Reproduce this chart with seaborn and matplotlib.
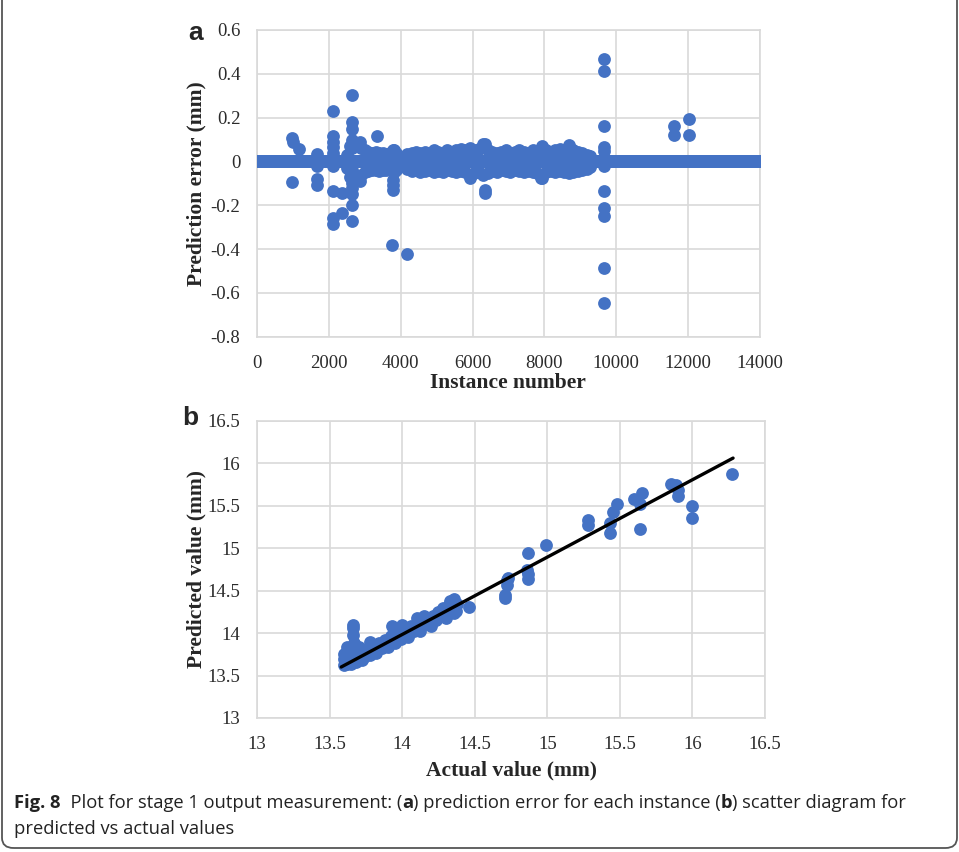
import numpy as np
import pandas as pd
import matplotlib
matplotlib.use("Agg")
import matplotlib.pyplot as plt
from matplotlib.patches import FancyBboxPatch
import seaborn as sns

# ---- panel a: prediction error per instance ----
n_instances = 14000  # every instance has zero error except those listed below

a_cluster_x = [2500, 2600, 2700, 2800, 2900, 3000, 3100, 3200, 3300, 3400, 3500, 3600, 3700, 3800, 3880,
               4170, 4300, 4420, 4550, 4680, 4800, 4930, 5050, 5180, 5300, 5430, 5550, 5680, 5800, 5930,
               6050, 6180, 6300, 6430, 6550, 6680, 6800, 6930, 7050, 7180, 7300, 7430, 7550, 7680, 7800,
               7930, 8050, 8180, 8300, 8430, 8550, 8680, 8800, 8930, 9050, 9180, 9280]
a_cluster_hi = [0.03, 0.07, 0.09, 0.08, 0.06, 0.05, 0.045, 0.04, 0.045, 0.04, 0.04, 0.035, 0.04, 0.05, 0.04,
                0.035, 0.04, 0.045, 0.04, 0.045, 0.04, 0.05, 0.045, 0.04, 0.05, 0.045, 0.05, 0.055, 0.05, 0.06,
                0.05, 0.055, 0.08, 0.05, 0.045, 0.04, 0.045, 0.05, 0.04, 0.045, 0.05, 0.045, 0.04, 0.05, 0.045,
                0.07, 0.05, 0.045, 0.05, 0.055, 0.045, 0.075, 0.05, 0.045, 0.04, 0.03, 0.025]
a_cluster_lo = [-0.03, -0.07, -0.085, -0.07, -0.06, -0.05, -0.045, -0.04, -0.04, -0.045, -0.04, -0.04, -0.035, -0.05, -0.04,
                -0.035, -0.045, -0.04, -0.05, -0.045, -0.04, -0.05, -0.045, -0.05, -0.04, -0.045, -0.05, -0.045, -0.05, -0.065,
                -0.055, -0.05, -0.06, -0.055, -0.045, -0.05, -0.04, -0.045, -0.05, -0.04, -0.045, -0.05, -0.045, -0.05, -0.055,
                -0.075, -0.05, -0.045, -0.05, -0.045, -0.05, -0.055, -0.05, -0.045, -0.04, -0.035, -0.025]

a_out_x = [966, 1010, 1170, 983, 1660, 1660, 1660, 1660, 2125,
           2107, 2107, 2107, 2107, 2107, 2107, 2107, 2107, 2376, 2356,
           2635, 2635, 2635, 2635, 2635, 2635, 2635, 2635, 2635, 2635, 2635,
           2866, 2866, 3330, 3795, 3795, 3795, 3795, 3748, 4166, 5928,
           6345, 6345, 6345, 7904,
           9666, 9666, 9666, 9666, 9666, 9666, 9666, 9666, 9666, 9666, 9666,
           11605, 11605, 12032, 12032]
a_out_err = [0.107, 0.087, 0.057, -0.096, 0.035, -0.023, -0.079, -0.106, 0.231,
             0.114, 0.09, 0.068, 0.04, -0.02, -0.134, -0.259, -0.284, -0.145, -0.236,
             0.301, 0.18, 0.148, 0.10, 0.06, -0.04, -0.10, -0.12, -0.15, -0.198, -0.274,
             0.09, -0.091, 0.114, 0.05, -0.084, -0.106, -0.129, -0.383, -0.421, -0.075,
             0.081, -0.13, -0.145, -0.075,
             0.467, 0.411, 0.164, 0.068, 0.046, -0.023, -0.134, -0.213, -0.251, -0.487, -0.644,
             0.163, 0.119, 0.195, 0.122]

a_xticks = [0, 2000, 4000, 6000, 8000, 10000, 12000, 14000]
a_yticks = [-0.8, -0.6, -0.4, -0.2, 0, 0.2, 0.4, 0.6]
a_yticklabels = ["-0.8", "-0.6", "-0.4", "-0.2", "0", "0.2", "0.4", "0.6"]

# ---- panel b: predicted vs actual ----
b_actual = [13.60, 13.60, 13.60, 13.61, 13.62, 13.62, 13.63, 13.64, 13.65, 13.65,
            13.66, 13.66, 13.66, 13.67, 13.67, 13.68, 13.70, 13.71, 13.73, 13.74,
            13.76, 13.78, 13.78, 13.80, 13.82, 13.84, 13.86, 13.88, 13.90, 13.92,
            13.93, 13.95, 13.97, 13.99, 14.00, 14.02, 14.04, 14.06, 14.08, 14.10,
            14.12, 14.14, 14.15, 14.17, 14.19, 14.20, 14.21, 14.23, 14.25, 14.27,
            14.28, 14.30, 14.30, 14.32, 14.33, 14.35, 14.36, 14.36, 14.37, 14.38,
            14.46, 14.71, 14.71, 14.72, 14.72, 14.73, 14.87, 14.86, 14.87, 14.87,
            14.99, 15.28, 15.28, 15.43, 15.43, 15.45, 15.48, 15.60, 15.64, 15.65,
            15.64, 15.85, 15.89, 15.90, 15.90, 16.00, 16.00, 16.27,
            13.62, 13.64, 13.68, 13.70, 13.72]
b_predicted = [13.62, 13.70, 13.75, 13.66, 13.63, 13.78, 13.68, 13.72, 13.64, 13.80,
               14.10, 14.06, 13.98, 13.88, 13.70, 13.66, 13.75, 13.69, 13.78, 13.72,
               13.80, 13.74, 13.90, 13.82, 13.76, 13.88, 13.82, 13.92, 13.83, 13.96,
               14.08, 13.88, 14.00, 13.93, 14.10, 14.02, 13.95, 14.08, 14.03, 14.18,
               14.02, 14.15, 14.20, 14.11, 14.18, 14.08, 14.20, 14.15, 14.25, 14.20,
               14.30, 14.18, 14.26, 14.33, 14.38, 14.28, 14.40, 14.24, 14.26, 14.34,
               14.31, 14.45, 14.41, 14.56, 14.62, 14.65, 14.94, 14.74, 14.70, 14.64,
               15.04, 15.33, 15.27, 15.18, 15.29, 15.42, 15.52, 15.58, 15.52, 15.65,
               15.22, 15.75, 15.74, 15.68, 15.61, 15.50, 15.35, 15.87,
               13.84, 13.76, 13.80, 13.84, 13.68]
fit_x = [13.58, 16.28]
fit_y = [13.60, 16.06]

b_ticks = [13, 13.5, 14, 14.5, 15, 15.5, 16, 16.5]
b_ticklabels = ["13", "13.5", "14", "14.5", "15", "15.5", "16", "16.5"]

BLUE = "#4472C4"
GRID = "#d9d9d9"
SERIF = "Liberation Serif"

sns.set_style("white")
plt.rcParams["font.family"] = ["Liberation Serif", "DejaVu Serif"]

fig = plt.figure(figsize=(9.59, 8.52), dpi=100)

# 框線
fig.patches.append(FancyBboxPatch((2 / 959, 4 / 852), 955 / 959, 860 / 852,
                                  boxstyle="round,pad=0,rounding_size=0.012",
                                  transform=fig.transFigure, fill=False,
                                  edgecolor="#555555", linewidth=1.3))

ax_a = fig.add_axes([0.268, 0.6048, 0.5245, 0.36])
ax_b = fig.add_axes([0.268, 0.1573, 0.5297, 0.3489])

base_x = np.arange(1, n_instances + 1)
df_a = pd.DataFrame({
    "instance": np.concatenate([base_x, a_cluster_x, a_cluster_x, a_out_x]),
    "error": np.concatenate([np.zeros(n_instances), a_cluster_hi, a_cluster_lo, a_out_err]),
})
sns.scatterplot(data=df_a, x="instance", y="error", ax=ax_a, color=BLUE, s=85,
                linewidth=0, zorder=3)

df_b = pd.DataFrame({"actual": b_actual, "predicted": b_predicted})
sns.scatterplot(data=df_b, x="actual", y="predicted", ax=ax_b, color=BLUE, s=85,
                linewidth=0, zorder=3)
sns.lineplot(x=fit_x, y=fit_y, ax=ax_b, color="black", linewidth=2.4, zorder=4)


def style_axes(ax):
    ax.grid(True, color=GRID, linewidth=1.2)
    ax.set_axisbelow(True)
    for sp in ax.spines.values():
        sp.set_visible(True)
        sp.set_color(GRID)
        sp.set_linewidth(1.2)
    ax.tick_params(length=0, labelsize=13.5, labelcolor="#2b2b2b")
    for lab in ax.get_xticklabels() + ax.get_yticklabels():
        lab.set_family(SERIF)


ax_a.set_xlim(0, 14000)
ax_a.set_ylim(-0.8, 0.6)
ax_a.set_xticks(a_xticks)
ax_a.set_xticklabels([str(t) for t in a_xticks])
ax_a.set_yticks(a_yticks)
ax_a.set_yticklabels(a_yticklabels)
ax_a.tick_params(axis="x", pad=13)
ax_a.tick_params(axis="y", pad=12)
style_axes(ax_a)
ax_a.set_xlabel("Instance number", fontsize=15.5, fontweight="bold")
ax_a.set_ylabel("Prediction error (mm)", fontsize=15.5, fontweight="bold")
ax_a.xaxis.set_label_coords(0.499, -0.152)
ax_a.xaxis.label.set_va("center")
ax_a.yaxis.set_label_coords(-0.121, 0.5)
ax_a.yaxis.label.set_va("center")

ax_b.set_xlim(13, 16.5)
ax_b.set_ylim(13, 16.5)
ax_b.set_xticks(b_ticks)
ax_b.set_xticklabels(b_ticklabels)
ax_b.set_yticks(b_ticks)
ax_b.set_yticklabels(b_ticklabels)
ax_b.tick_params(axis="x", pad=13)
ax_b.tick_params(axis="y", pad=12)
style_axes(ax_b)
ax_b.set_xlabel("Actual value (mm)", fontsize=15.5, fontweight="bold")
ax_b.set_ylabel("Predicted value (mm)", fontsize=15.5, fontweight="bold")
ax_b.xaxis.set_label_coords(0.5, -0.178)
ax_b.xaxis.label.set_va("center")
ax_b.yaxis.set_label_coords(-0.12, 0.5)
ax_b.yaxis.label.set_va("center")

# panel letters
fig.text(196 / 959, 1 - 33 / 852, "a", fontsize=19, fontweight="bold",
         family="Liberation Sans", ha="center", va="center")
fig.text(190 / 959, 1 - 418 / 852, "b", fontsize=19, fontweight="bold",
         family="Liberation Sans", ha="center", va="center")

# caption with bold pieces
CAP_FONT = ["Open Sans", "DejaVu Sans"]
CAP_SIZE = 13.2
renderer = fig.canvas.get_renderer()


def draw_runs(x_px, y_px, runs):
    x = x_px / 959
    for text, weight in runs:
        t = fig.text(x, 1 - y_px / 852, text, fontsize=CAP_SIZE, fontweight=weight,
                     family=CAP_FONT, ha="left", va="center", color="#222222")
        bb = t.get_window_extent(renderer)
        x = fig.transFigure.inverted().transform((bb.x1, bb.y0))[0]


draw_runs(14, 803, [("Fig. 8", "bold"),
                    ("  Plot for stage 1 output measurement: (", "normal"),
                    ("a", "bold"),
                    (") prediction error for each instance (", "normal"),
                    ("b", "bold"),
                    (") scatter diagram for", "normal")])
draw_runs(14, 829, [("predicted vs actual values", "normal")])

fig.savefig("out.png", dpi=100)
